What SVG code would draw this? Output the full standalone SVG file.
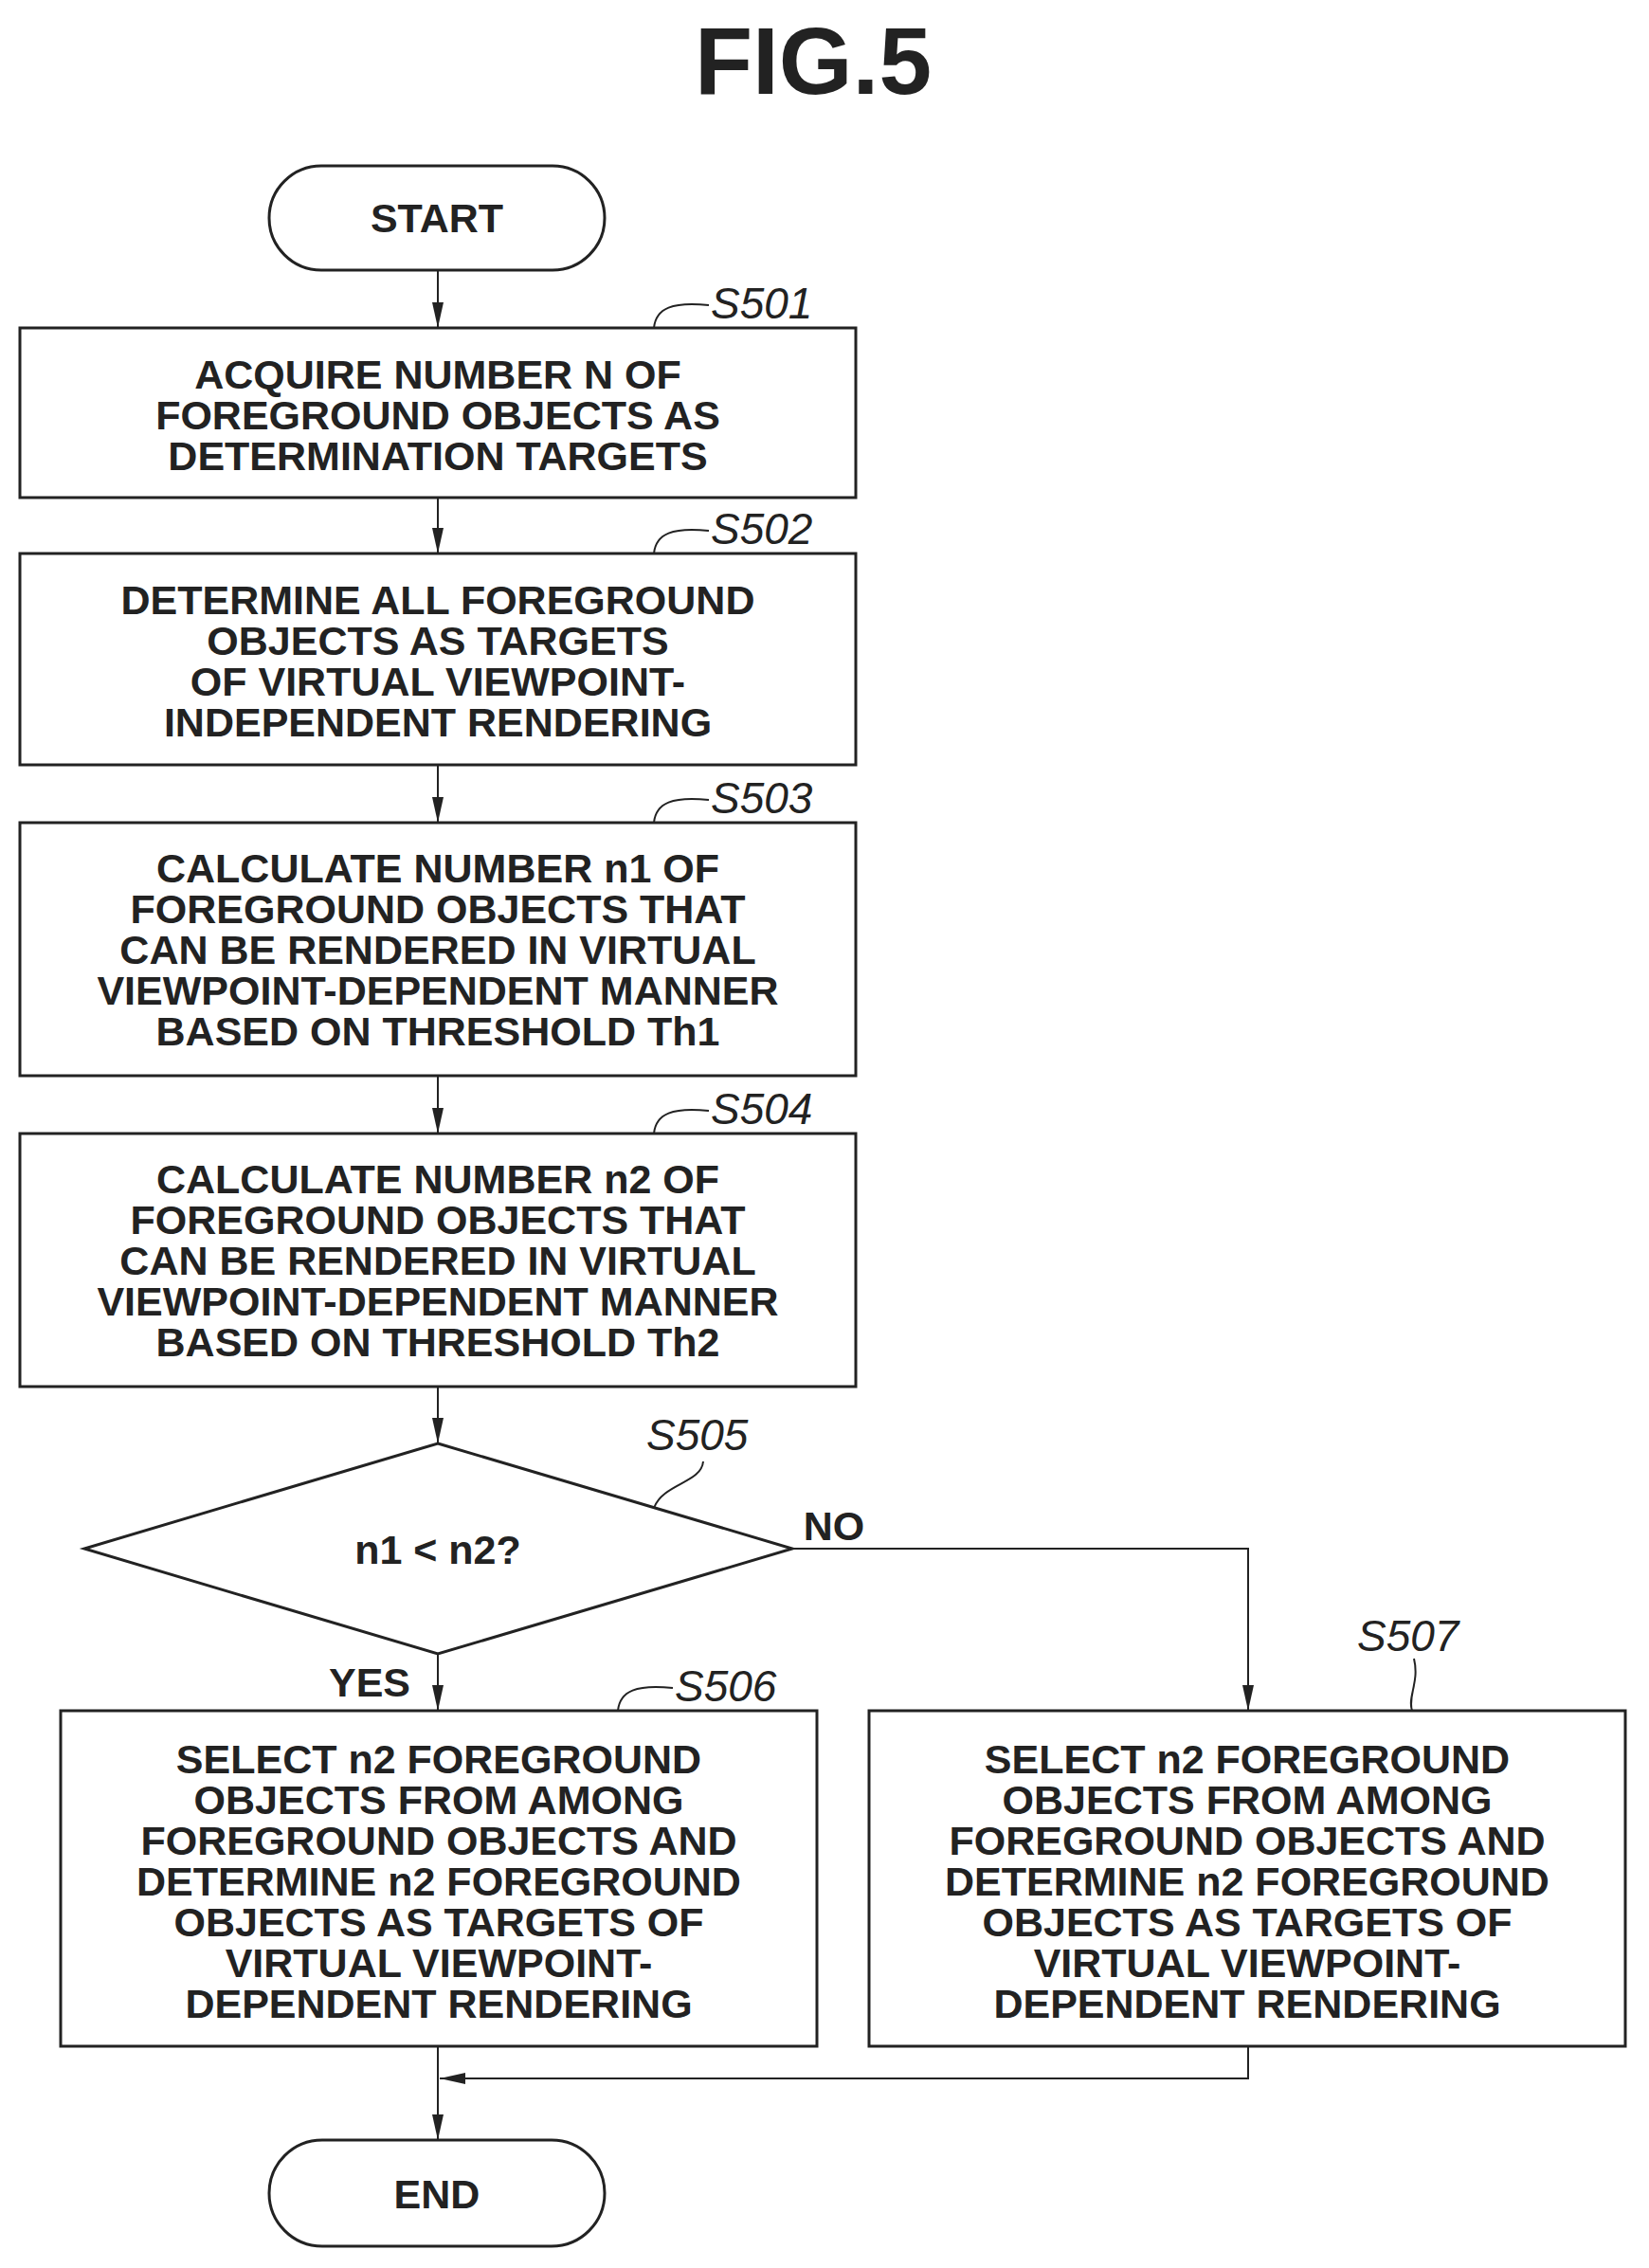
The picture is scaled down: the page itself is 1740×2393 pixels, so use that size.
<svg xmlns="http://www.w3.org/2000/svg" width="1740" height="2393" viewBox="0 0 1740 2393">
<style>
.s{fill:none;stroke:#222;stroke-width:3}
.t{font-family:"Liberation Sans",Arial,sans-serif;font-weight:bold;font-size:43px;fill:#222;text-anchor:middle}
.l{font-family:"Liberation Sans",Arial,sans-serif;font-style:italic;font-size:46px;fill:#222}
.c{fill:none;stroke:#222;stroke-width:2}
</style>
<defs><marker id="a" markerWidth="28" markerHeight="12" refX="27" refY="6" orient="auto" markerUnits="userSpaceOnUse"><path d="M0,0 L27,6 L0,12 Z" fill="#222"/></marker></defs>
<text x="858" y="99" font-family="Liberation Sans,Arial,sans-serif" font-weight="bold" font-size="100" text-anchor="middle" fill="#222">FIG.5</text>
<g id="start"><rect class="s" x="284" y="175" width="354" height="110" rx="55"/><text class="t" x="461" y="245">START</text></g>
<g id="s501"><rect class="s" x="21" y="346" width="882" height="179"/><text class="t" x="462" y="410">ACQUIRE NUMBER N OF</text><text class="t" x="462" y="453">FOREGROUND OBJECTS AS</text><text class="t" x="462" y="496">DETERMINATION TARGETS</text><path class="c" d="M690,346 C692,325 710,318 748,322"/><text class="l" x="750" y="336">S501</text></g>
<g id="s502"><rect class="s" x="21" y="584" width="882" height="223"/><text class="t" x="462" y="648">DETERMINE ALL FOREGROUND</text><text class="t" x="462" y="691">OBJECTS AS TARGETS</text><text class="t" x="462" y="734">OF VIRTUAL VIEWPOINT-</text><text class="t" x="462" y="777">INDEPENDENT RENDERING</text><path class="c" d="M690,584 C692,563 710,556 748,560"/><text class="l" x="750" y="574">S502</text></g>
<g id="s503"><rect class="s" x="21" y="868" width="882" height="267"/><text class="t" x="462" y="931">CALCULATE NUMBER n1 OF</text><text class="t" x="462" y="974">FOREGROUND OBJECTS THAT</text><text class="t" x="462" y="1017">CAN BE RENDERED IN VIRTUAL</text><text class="t" x="462" y="1060">VIEWPOINT-DEPENDENT MANNER</text><text class="t" x="462" y="1103">BASED ON THRESHOLD Th1</text><path class="c" d="M690,868 C692,847 710,840 748,844"/><text class="l" x="750" y="858">S503</text></g>
<g id="s504"><rect class="s" x="21" y="1196" width="882" height="267"/><text class="t" x="462" y="1259">CALCULATE NUMBER n2 OF</text><text class="t" x="462" y="1302">FOREGROUND OBJECTS THAT</text><text class="t" x="462" y="1345">CAN BE RENDERED IN VIRTUAL</text><text class="t" x="462" y="1388">VIEWPOINT-DEPENDENT MANNER</text><text class="t" x="462" y="1431">BASED ON THRESHOLD Th2</text><path class="c" d="M690,1196 C692,1175 710,1168 748,1172"/><text class="l" x="750" y="1186">S504</text></g>
<g id="s505"><path class="s" d="M462,1523 L836,1634 L462,1745 L89,1634 Z"/><text class="t" x="462" y="1650" font-size="42">n1 &lt; n2?</text><path class="c" d="M690,1591 C700,1565 740,1565 742,1542"/><text class="l" x="682" y="1530">S505</text></g>
<g id="s506"><rect class="s" x="64" y="1805" width="798" height="354"/><text class="t" x="463" y="1871">SELECT n2 FOREGROUND</text><text class="t" x="463" y="1914">OBJECTS FROM AMONG</text><text class="t" x="463" y="1957">FOREGROUND OBJECTS AND</text><text class="t" x="463" y="2000">DETERMINE n2 FOREGROUND</text><text class="t" x="463" y="2043">OBJECTS AS TARGETS OF</text><text class="t" x="463" y="2086">VIRTUAL VIEWPOINT-</text><text class="t" x="463" y="2129">DEPENDENT RENDERING</text><path class="c" d="M652,1805 C654,1784 672,1777 710,1781"/><text class="l" x="712" y="1795">S506</text></g>
<g id="s507"><rect class="s" x="917" y="1805" width="798" height="354"/><text class="t" x="1316" y="1871">SELECT n2 FOREGROUND</text><text class="t" x="1316" y="1914">OBJECTS FROM AMONG</text><text class="t" x="1316" y="1957">FOREGROUND OBJECTS AND</text><text class="t" x="1316" y="2000">DETERMINE n2 FOREGROUND</text><text class="t" x="1316" y="2043">OBJECTS AS TARGETS OF</text><text class="t" x="1316" y="2086">VIRTUAL VIEWPOINT-</text><text class="t" x="1316" y="2129">DEPENDENT RENDERING</text><path class="c" d="M1490,1805 C1485,1790 1498,1775 1492,1750"/><text class="l" x="1432" y="1742">S507</text></g>
<g id="end"><rect class="s" x="284" y="2258" width="354" height="112" rx="56"/><text class="t" x="461" y="2330">END</text></g>
<g id="connectors" class="c">
<path d="M462,285 V346" marker-end="url(#a)"/>
<path d="M462,525 V584" marker-end="url(#a)"/>
<path d="M462,807 V868" marker-end="url(#a)"/>
<path d="M462,1135 V1196" marker-end="url(#a)"/>
<path d="M462,1463 V1523" marker-end="url(#a)"/>
<path d="M462,1745 V1805" marker-end="url(#a)"/>
<path d="M836,1634 H1317 V1805" marker-end="url(#a)"/>
<path d="M462,2159 V2258" marker-end="url(#a)"/>
<path d="M1317,2159 V2193 H464" marker-end="url(#a)"/>
</g>
<text class="t" x="880" y="1625" font-size="42">NO</text>
<text class="t" x="390" y="1790" font-size="42">YES</text>
</svg>
